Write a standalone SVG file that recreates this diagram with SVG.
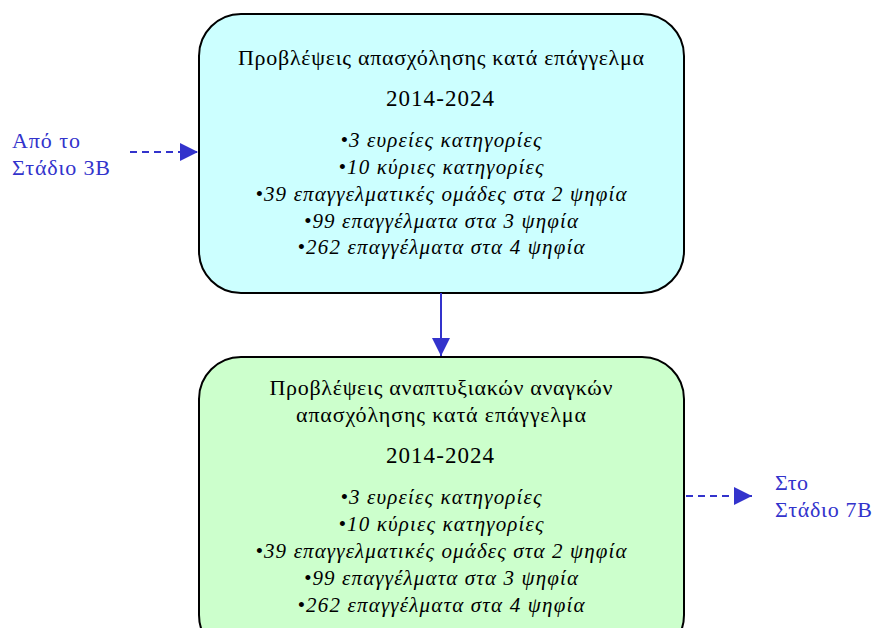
<svg xmlns="http://www.w3.org/2000/svg" width="873" height="628" viewBox="0 0 873 628">
<style>
.box{stroke:#000;stroke-width:2}
.t{font-family:"Liberation Serif","Times New Roman","DejaVu Serif",serif;font-size:22px;fill:#000;text-anchor:middle}
.y{font-size:23px}
.i{font-style:italic;font-size:21px}
.lbl{font-family:"Liberation Serif","Times New Roman","DejaVu Serif",serif;font-size:22px;fill:#3333CC}
.c{stroke:#3333CC;stroke-width:2;fill:none}
.d{stroke-dasharray:7,5}
</style>
<defs>
<marker id="ah" markerWidth="18" markerHeight="18" refX="16" refY="8" orient="auto" markerUnits="userSpaceOnUse" viewBox="0 0 16 16">
<path d="M0,0 L16,8 L0,16 Z" fill="#3333CC"/>
</marker>
</defs>
<g id="top">
<rect class="box" x="199" y="14" width="485" height="279" rx="42" ry="42" fill="#CCFFFF"/>
<text class="t" x="441" y="65" textLength="406" lengthAdjust="spacing">Προβλέψεις απασχόλησης κατά επάγγελμα</text>
<text class="t y" x="440" y="106" textLength="108" lengthAdjust="spacing">2014-2024</text>
<text class="t i" x="441" y="147" textLength="201" lengthAdjust="spacing">•3 ευρείες κατηγορίες</text>
<text class="t i" x="441" y="174" textLength="205" lengthAdjust="spacing">•10 κύριες κατηγορίες</text>
<text class="t i" x="441" y="201" textLength="371" lengthAdjust="spacing">•39 επαγγελματικές ομάδες στα 2 ψηφία</text>
<text class="t i" x="441" y="228" textLength="274" lengthAdjust="spacing">•99 επαγγέλματα στα 3 ψηφία</text>
<text class="t i" x="441" y="254" textLength="287" lengthAdjust="spacing">•262 επαγγέλματα στα 4 ψηφία</text>
</g>
<g id="bottom">
<rect class="box" x="199" y="357" width="485" height="300" rx="42" ry="42" fill="#CCFFCC"/>
<text class="t" x="441" y="395" textLength="343" lengthAdjust="spacing">Προβλέψεις αναπτυξιακών αναγκών</text>
<text class="t" x="441" y="422" textLength="290" lengthAdjust="spacing">απασχόλησης κατά επάγγελμα</text>
<text class="t y" x="440" y="463" textLength="108" lengthAdjust="spacing">2014-2024</text>
<text class="t i" x="441" y="504" textLength="201" lengthAdjust="spacing">•3 ευρείες κατηγορίες</text>
<text class="t i" x="441" y="531" textLength="205" lengthAdjust="spacing">•10 κύριες κατηγορίες</text>
<text class="t i" x="441" y="558" textLength="371" lengthAdjust="spacing">•39 επαγγελματικές ομάδες στα 2 ψηφία</text>
<text class="t i" x="441" y="585" textLength="274" lengthAdjust="spacing">•99 επαγγέλματα στα 3 ψηφία</text>
<text class="t i" x="441" y="612" textLength="287" lengthAdjust="spacing">•262 επαγγέλματα στα 4 ψηφία</text>
</g>
<g id="from3B">
<text class="lbl" x="12" y="148" textLength="68" lengthAdjust="spacing">Από το</text>
<text class="lbl" x="12" y="175" textLength="98" lengthAdjust="spacing">Στάδιο 3Β</text>
</g>
<g id="to7B">
<text class="lbl" x="775" y="490" textLength="33" lengthAdjust="spacing">Στο</text>
<text class="lbl" x="775" y="517" textLength="97" lengthAdjust="spacing">Στάδιο 7Β</text>
</g>
<g id="connectors">
<path class="c d" d="M130,152 H198" marker-end="url(#ah)"/>
<path class="c" d="M441,293 V356" marker-end="url(#ah)"/>
<path class="c d" d="M686,496 H752" marker-end="url(#ah)"/>
</g>
</svg>
